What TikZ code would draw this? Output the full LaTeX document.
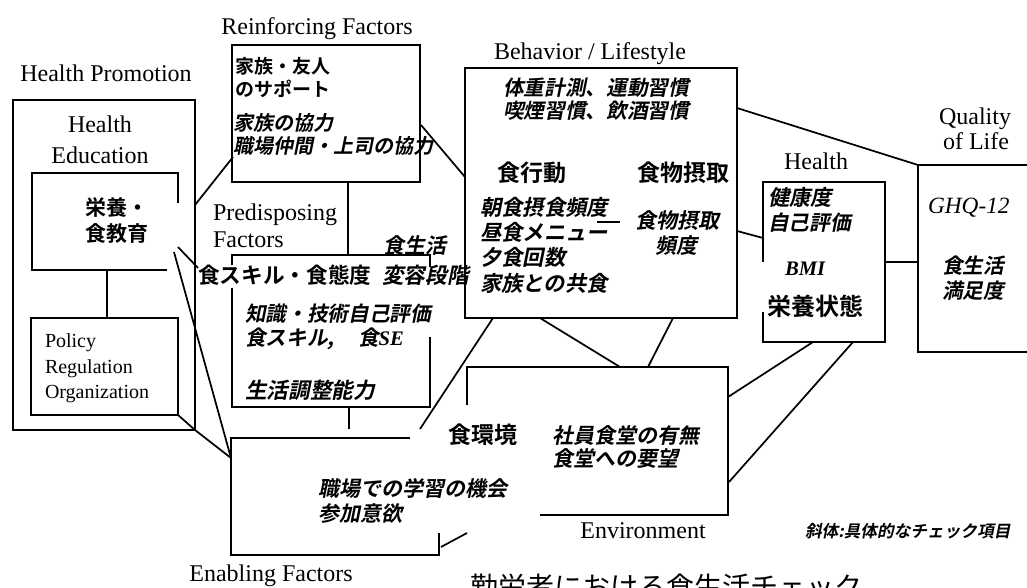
\documentclass[tikz,border=0pt]{standalone}
\usepackage{fontspec}
\setmainfont{Liberation Serif}
\newfontfamily\jpR{Noto Sans CJK JP}
\newfontfamily\jpB{Noto Sans CJK JP Bold}
\newfontfamily\jpBI{Noto Sans CJK JP Bold}[FakeSlant=0.2]
\usetikzlibrary{fit}
\begin{document}
\begin{tikzpicture}[x=0.75pt,y=-0.75pt,
 box/.style={draw, line width=2pt, inner sep=0, outer sep=0},
 bline/.style={draw, line width=2pt},
 conn/.style={draw, line width=1.3pt},
 en/.style={inner sep=0, outer sep=0, anchor=base, font=\fontsize{18pt}{18pt}\selectfont},
 enw/.style={en, anchor=base west},
 jb/.style={inner sep=0, outer sep=0, anchor=base west, font=\jpB\fontsize{#1}{#1}\selectfont},
 jb/.default=15.75pt,
 jbi/.style={inner sep=0, outer sep=0, anchor=base west, font=\jpBI\fontsize{#1}{#1}\selectfont},
 jbi/.default=15.75pt]
\useasboundingbox (0,0) rectangle (1027,588);

% ---------- complete boxes
\node[box, fit={(13,100)(195,430)}] (hpbox) {};
\node[box, fit={(31,318)(178,415)}] (polbox) {};
\node[box, fit={(232,45)(420,182)}] (rfbox) {};
\node[box, fit={(465,68)(737,318)}] (bhbox) {};

% ---------- partial boxes (corner coordinates)
% inner health education box
\coordinate (ie1) at (178,203); \coordinate (ie2) at (178,173);
\coordinate (ie3) at (32,173);  \coordinate (ie4) at (32,270);
\coordinate (ie5) at (167,270);
\draw[bline] (ie1) -- (ie2) -- (ie3) -- (ie4) -- (ie5);
% predisposing box
\coordinate (pd1) at (430,267); \coordinate (pd2) at (430,255);
\coordinate (pd3) at (232,255); \coordinate (pd4) at (232,265);
\coordinate (pd5) at (232,288); \coordinate (pd6) at (232,407);
\coordinate (pd7) at (430,407); \coordinate (pd8) at (430,337);
\draw[bline] (pd1) -- (pd2) -- (pd3) -- (pd4);
\draw[bline] (pd5) -- (pd6) -- (pd7) -- (pd8);
% health box
\coordinate (hb1) at (763,262); \coordinate (hb2) at (763,182);
\coordinate (hb3) at (885,182); \coordinate (hb4) at (885,342);
\coordinate (hb5) at (763,342); \coordinate (hb6) at (763,312);
\draw[bline] (hb1) -- (hb2) -- (hb3) -- (hb4) -- (hb5) -- (hb6);
% quality of life box
\coordinate (ql1) at (1035,165); \coordinate (ql2) at (918,165);
\coordinate (ql3) at (918,352);  \coordinate (ql4) at (1035,352);
\draw[bline] (ql1) -- (ql2) -- (ql3) -- (ql4);
% enabling box
\coordinate (eb1) at (410,438); \coordinate (eb2) at (231,438);
\coordinate (eb3) at (231,555); \coordinate (eb4) at (439,555);
\coordinate (eb5) at (439,533);
\draw[bline] (eb1) -- (eb2) -- (eb3) -- (eb4) -- (eb5);
% environment box
\coordinate (ev1) at (467,405); \coordinate (ev2) at (467,367);
\coordinate (ev3) at (728,367); \coordinate (ev4) at (728,515);
\coordinate (ev5) at (540,515);
\draw[bline] (ev1) -- (ev2) -- (ev3) -- (ev4) -- (ev5);

% ---------- English labels
\node[en] (tHP) at (106,82) {Health Promotion};
\node[en] (tHE1) at (100,133) {Health};
\node[en] (tHE2) at (100,163) {Education};
\node[en] (tRF) at (317,35) {Reinforcing Factors};
\node[enw] (tPD1) at (213,220) {Predisposing};
\node[enw] (tPD2) at (213,247) {Factors};
\node[en] (tBL) at (590,60) {Behavior / Lifestyle};
\node[en] (tHL) at (816,170) {Health};
\node[en] (tQL1) at (975,125) {Quality};
\node[en] (tQL2) at (976,150) {of Life};
\node[en] (tEV) at (643,538) {Environment};
\node[en] (tEF) at (271,581) {Enabling Factors};
\node[enw, font=\fontsize{15pt}{15pt}\selectfont] (tPO1) at (45,347) {Policy};
\node[enw, font=\fontsize{15pt}{15pt}\selectfont] (tPO2) at (45,373) {Regulation};
\node[enw, font=\fontsize{15pt}{15pt}\selectfont] (tPO3) at (45,398) {Organization};
\node[enw, font=\itshape\fontsize{17.5pt}{17.5pt}\selectfont] (tGHQ) at (928,213) {GHQ-12};
\node[enw, font=\bfseries\itshape\fontsize{15.5pt}{15.5pt}\selectfont] (tBMI) at (785,275) {BMI};

% ---------- Japanese texts
\node[jb=15.75pt] (jEd1) at (85,215.5) {栄養・};
\node[jb=15.75pt] (jEd2) at (85,241.5) {食教育};
\node[jb=14.25pt] (jRf1) at (235,73.5) {家族・友人};
\node[jb=14.25pt] (jRf2) at (235,96.5) {のサポート};
\node[jbi=15pt] (jRf3) at (233,130.5) {家族の協力};
\node[jbi=15pt] (jRf4) at (233,153.5) {職場仲間・上司の協力};
\node[jb=16.25pt] (jPd1) at (198,283.5) {食スキル・食態度};
\node[jbi=15.75pt] (jPd2) at (383,253.5) {食生活};
\node[jbi=16.25pt] (jPd3) at (382,283.5) {変容段階};
\node[jbi=15.5pt] (jPd4) at (245,321.5) {知識・技術自己評価};
\node[jbi=15.5pt] (jPd5) at (245,345.5) {食スキル,};
\node[jb=15.5pt, font=\jpBI\fontsize{15.5pt}{15.5pt}\selectfont] (jPd6) at (358,345.5) {食\fontspec{Liberation Serif}[FakeSlant=0]\bfseries\itshape SE};
\node[jbi=16.25pt] (jPd7) at (245,398.5) {生活調整能力};
\node[jbi=15.5pt] (jBh1) at (503,95.5) {体重計測、運動習慣};
\node[jbi=15.5pt] (jBh2) at (503,118.5) {喫煙習慣、飲酒習慣};
\node[jb=17.25pt] (jBh3) at (497,181.5) {食行動};
\node[jb=17.25pt] (jBh4) at (637,181.5) {食物摂取};
\node[jbi=16pt] (jBh5) at (480,215.5) {朝食摂食頻度};
\node[jbi=16pt] (jBh6) at (480,240.5) {昼食メニュー};
\node[jbi=16pt] (jBh7) at (480,265.5) {夕食回数};
\node[jbi=16pt] (jBh8) at (480,291) {家族との共食};
\node[jbi=15.75pt] (jBh9) at (635,228.5) {食物摂取};
\node[jbi=15.75pt] (jBh10) at (655,253.5) {頻度};
\node[jbi=16pt] (jHl1) at (768,205.5) {健康度};
\node[jbi=15.5pt] (jHl2) at (768,230.5) {自己評価};
\node[jb=18pt] (jHl3) at (767,315) {栄養状態};
\node[jbi=15.5pt] (jQl1) at (942,273.5) {食生活};
\node[jbi=15.5pt] (jQl2) at (942,298.5) {満足度};
\node[jb=17.25pt] (jEv1) at (448,443.5) {食環境};
\node[jbi=15.75pt] (jEv2) at (552,443.5) {社員食堂の有無};
\node[jbi=15.75pt] (jEv3) at (552,466.5) {食堂への要望};
\node[jbi=15.75pt] (jEn1) at (318,496.5) {職場での学習の機会};
\node[jbi=15.75pt] (jEn2) at (318,521.5) {参加意欲};
\node[jbi=12.5pt] (jNote) at (805,537) {斜体:具体的なチェック項目};
\node[inner sep=0, anchor=base west, font=\jpR\fontsize{21pt}{21pt}\selectfont] (jBottom) at (470,597) {勤労者における食生活チェック};

% ---------- connectors
\coordinate (a1) at (195,205); \coordinate (a2) at (233,157);
\draw[conn] (a1) -- (a2);
\coordinate (b1) at (421,125); \coordinate (b2) at (465,177);
\draw[conn] (b1) -- (b2);
\coordinate (c1) at (348,182); \coordinate (c2) at (348,255);
\draw[conn] (c1) -- (c2);
\coordinate (d1) at (178,247); \coordinate (d2) at (198,268);
\draw[conn] (d1) -- (d2);
\coordinate (e1) at (174,252); \coordinate (e2) at (231,458);
\draw[conn] (e1) -- (e2);
\coordinate (f1) at (178,415); \coordinate (f2) at (195,430);
\draw[conn] (f1) -- (f2) -- (e2);
\coordinate (g1) at (107,270); \coordinate (g2) at (107,318);
\draw[conn] (g1) -- (g2);
\coordinate (h1) at (349,407); \coordinate (h2) at (349,429);
\draw[conn] (h1) -- (h2);
\coordinate (i1) at (420,429); \coordinate (i2) at (493,318);
\draw[conn] (i1) -- (i2);
\coordinate (j1) at (540,318); \coordinate (j2) at (620,367);
\draw[conn] (j1) -- (j2);
\coordinate (k1) at (673,318); \coordinate (k2) at (648,367);
\draw[conn] (k1) -- (k2);
\coordinate (l1) at (737,108); \coordinate (l2) at (918,165);
\draw[conn] (l1) -- (l2);
\coordinate (m1) at (737,231); \coordinate (m2) at (763,238);
\draw[conn] (m1) -- (m2);
\coordinate (n1) at (885,262); \coordinate (n2) at (918,262);
\draw[conn] (n1) -- (n2);
\coordinate (o1) at (813,342); \coordinate (o2) at (728,397);
\draw[conn] (o1) -- (o2);
\coordinate (p1) at (853,342); \coordinate (p2) at (729,482);
\draw[conn] (p1) -- (p2);
\coordinate (q1) at (597,222); \coordinate (q2) at (620,222);
\draw[conn] (q1) -- (q2);
\coordinate (r1) at (441,547); \coordinate (r2) at (467,533);
\draw[conn] (r1) -- (r2);
\end{tikzpicture}
\end{document}
